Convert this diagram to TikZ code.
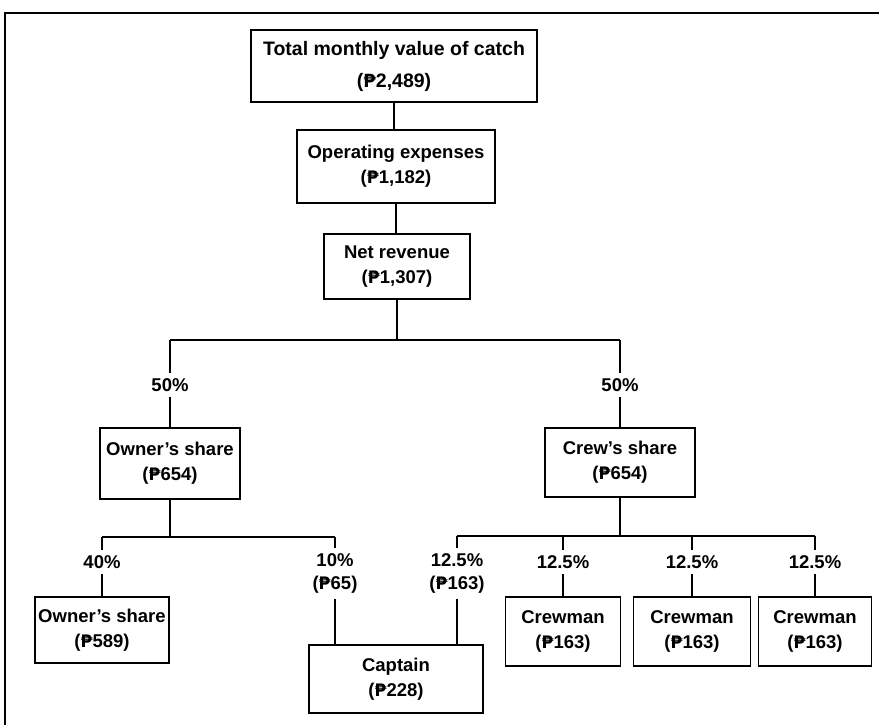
\documentclass[tikz,border=0pt]{standalone}
\usepackage{fontspec}
\setmainfont{Liberation Sans}
\newfontfamily\pesofont{DejaVu Sans}[Scale=0.93]
\newcommand{\peso}{{\pesofont ₱}}
\begin{document}
\begin{tikzpicture}[x=1pt,y=-1pt,
  box/.style={draw, line width=1.8pt, align=center, inner sep=0pt,
    font=\bfseries\fontsize{18.5}{25}\selectfont},
  lbl/.style={align=center, inner xsep=1pt, inner ysep=5pt,
    font=\bfseries\fontsize{18.5}{23}\selectfont},
  conn/.style={line width=1.4pt},
  frame/.style={line width=1.2pt}]
\useasboundingbox (0,0) rectangle (879,725);
% frame
\draw[frame] (879,13) -- (5,13) -- (5,725);
% boxes
\node[box, font=\bfseries\fontsize{19.5}{32}\selectfont, minimum width=286pt, minimum height=72pt] (total) at (394,66) {Total monthly value of catch\\(\peso2,489)};
\node[box, minimum width=198pt, minimum height=73pt] (opex) at (396,166.5) {Operating expenses\\(\peso1,182)};
\node[box, minimum width=146pt, minimum height=65pt] (net) at (397,266.5) {Net revenue\\(\peso1,307)};
\node[box, minimum width=140pt, minimum height=71pt] (owner) at (170,463.5) {Owner's share\\(\peso654)};
\node[box, minimum width=150pt, minimum height=69pt] (crew) at (620,462.5) {Crew's share\\(\peso654)};
\node[box, minimum width=134pt, minimum height=66pt] (owner2) at (102,630) {Owner's share\\(\peso589)};
\node[box, minimum width=174pt, minimum height=68pt] (captain) at (396,679) {Captain\\(\peso228)};
\node[box, minimum width=115pt, minimum height=69pt] (crewA) at (563,631.5) {Crewman\\(\peso163)};
\node[box, minimum width=117pt, minimum height=69pt] (crewB) at (692,631.5) {Crewman\\(\peso163)};
\node[box, minimum width=113pt, minimum height=69pt] (crewC) at (815,631.5) {Crewman\\(\peso163)};
% labels
\node[lbl] (p50a) at (170,385) {50\%};
\node[lbl] (p50b) at (620,385) {50\%};
\node[lbl] (p40) at (102,562) {40\%};
\node[lbl] (p10) at (335,573.5) {10\%\\(\peso65)};
\node[lbl] (p125a) at (457,573.5) {12.5\%\\(\peso163)};
\node[lbl] (p125b) at (563,562) {12.5\%};
\node[lbl] (p125c) at (692,562) {12.5\%};
\node[lbl] (p125d) at (815,562) {12.5\%};
% split coordinates
\coordinate (s1) at (397,340);
\coordinate (s1L) at (170,340);
\coordinate (s1R) at (620,340);
\coordinate (s2) at (170,537);
\coordinate (s2L) at (102,537);
\coordinate (s2R) at (335,537);
\coordinate (s3) at (620,536);
\coordinate (s3L) at (457,536);
\coordinate (s3R) at (815,536);
% connectors
\draw[conn] (total.south) -- (total.south |- opex.north);
\draw[conn] (opex.south) -- (opex.south |- net.north);
\draw[conn] (net.south) -- (s1);
\draw[conn] (s1L) -- (s1R);
\draw[conn] (s1L) -- (p50a.north);
\draw[conn] (p50a.south) -- (owner.north);
\draw[conn] (s1R) -- (p50b.north);
\draw[conn] (p50b.south) -- (crew.north);
\draw[conn] (owner.south) -- (s2);
\draw[conn] (s2L) -- (s2R);
\draw[conn] (s2L) -- (p40.north);
\draw[conn] (p40.south) -- (owner2.north);
\draw[conn] (s2R) -- (p10.north);
\draw[conn] (p10.south) -- (p10.south |- captain.north);
\draw[conn] (crew.south) -- (s3);
\draw[conn] (s3L) -- (s3R);
\draw[conn] (s3L) -- (p125a.north);
\draw[conn] (p125a.south) -- (p125a.south |- captain.north);
\draw[conn] (crewA.north |- s3) -- (p125b.north);
\draw[conn] (p125b.south) -- (crewA.north);
\draw[conn] (crewB.north |- s3) -- (p125c.north);
\draw[conn] (p125c.south) -- (crewB.north);
\draw[conn] (s3R) -- (p125d.north);
\draw[conn] (p125d.south) -- (crewC.north);
\end{tikzpicture}
\end{document}
